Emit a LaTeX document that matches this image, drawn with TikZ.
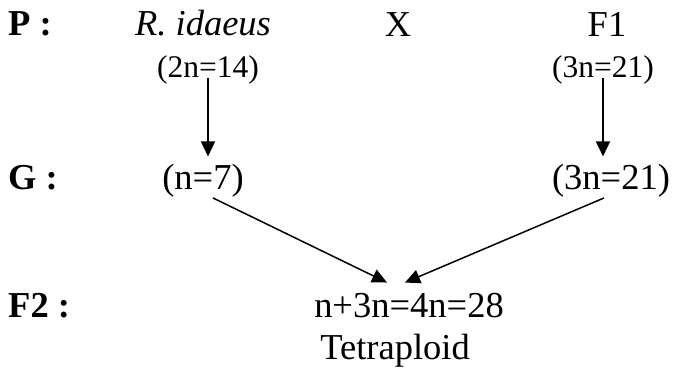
\documentclass[tikz,border=0pt]{standalone}
\usepackage{fontspec}
\setmainfont{Liberation Serif}
\usetikzlibrary{positioning,arrows.meta}
\newcommand{\bigsz}{\fontsize{36.5}{40}\selectfont}
\newcommand{\smallsz}{\fontsize{31.5}{34}\selectfont}

\begin{document}
\begin{tikzpicture}[x=1pt, y=-1pt, every node/.style={font=\bigsz, inner sep=0pt, anchor=base},
    lbl/.style={font=\bigsz\bfseries, anchor=base west},
    chrom/.style={font=\smallsz},
    arr/.style={-{Triangle[length=15pt,width=14pt]}, line width=1.5pt}]
  \useasboundingbox (0,0) rectangle (673,371);
  % row labels
  \node[lbl] (rowP) at (8,36) {P :};
  \node[lbl] (rowG) at (8,190) {G :};
  \node[lbl] (rowF) at (8,318) {F2 :};
  % parents
  \node (parA) at (203,36) {\itshape R. idaeus};
  \node (cross) at (398,37) {X};
  \node (parB) at (607,37) {F1};
  \node[chrom] (parAn) at (208,78) {(2n=14)};
  \node[chrom] (parBn) at (603,78) {(3n=21)};
  % gametes
  \node (gamA) at (203,190) {(n=7)};
  \node (gamB) at (611,190) {(3n=21)};
  % offspring
  \node (res) at (409,318) {n+3n=4n=28};
  \node (tetra) at (395,360) {Tetraploid};
  \draw[arr, shorten >=8pt] (parAn.base) -- (parAn.base |- gamA.north);
  \draw[arr, shorten >=8pt] (parBn.base) -- (parBn.base |- gamB.north);
  \draw[arr] ([xshift=10pt]gamA.south) -- ([xshift=-22pt,yshift=11pt]res.north);
  \draw[arr] ([xshift=-7pt]gamB.south) -- ([xshift=-4pt,yshift=11pt]res.north);
\end{tikzpicture}
\end{document}
